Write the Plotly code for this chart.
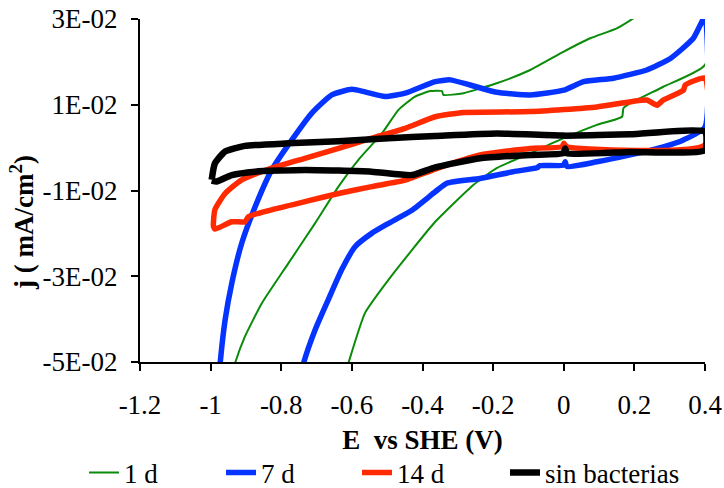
import plotly.graph_objects as go

# ---- data (E vs SHE in V, j in mA/cm2) ----
# 1 d : forward sweep then return sweep
e_1d = [-0.94, -0.931, -0.903, -0.855, -0.780, -0.704, -0.638, -0.582, -0.515, -0.468, -0.421, -0.378,
        -0.345, -0.341, -0.284, -0.190, -0.095, 0.0, 0.075, 0.150, 0.198, 0.30, 0.40,
        0.40, 0.282, 0.188, 0.169, 0.165, 0.094, 0.0, -0.095, -0.190, -0.256, -0.364, -0.430,
        -0.497, -0.563, -0.610, -0.62]
j_1d = [-0.053, -0.0503, -0.0441, -0.0363, -0.0270, -0.0176, -0.0091, -0.0029, 0.0033, 0.0088, 0.0119, 0.0132,
        0.0132, 0.0123, 0.0127, 0.0150, 0.0181, 0.0224, 0.0255, 0.0278, 0.0302, 0.036, 0.041,
        0.0193, 0.0142, 0.0103, 0.0092, 0.0072, 0.0053, 0.0022, -0.0013, -0.0048, -0.0087, -0.0173, -0.0239,
        -0.0309, -0.0386, -0.0503, -0.053]

# 7 d
e_7d = [-0.978, -0.973, -0.959, -0.940, -0.912, -0.874, -0.827, -0.770, -0.714, -0.657, -0.600, -0.563,
        -0.506, -0.449, -0.364, -0.322, -0.265, -0.190, -0.095, 0.0, 0.056, 0.141, 0.235, 0.302, 0.367, 0.40,
        0.40, 0.339, 0.282, 0.188, 0.094, 0.009, 0.004, -0.001, -0.067, -0.076, -0.142, -0.237, -0.331,
        -0.364, -0.430, -0.497, -0.544, -0.591, -0.629, -0.667, -0.704, -0.737, -0.745]
j_7d = [-0.056, -0.0503, -0.0402, -0.0316, -0.0223, -0.0138, -0.0052, 0.0018, 0.0080, 0.0123, 0.0136, 0.0130,
        0.0119, 0.0127, 0.0154, 0.0158, 0.0146, 0.0129, 0.0123, 0.0134, 0.0154, 0.0162, 0.0181, 0.0208, 0.0255, 0.0305,
        0.0048, 0.0018, 0.0002, -0.0017, -0.0033, -0.0044, -0.0033, -0.0041, -0.0042, -0.0047, -0.0056, -0.0072, -0.0083,
        -0.0103, -0.0146, -0.0177, -0.0200, -0.0231, -0.0285, -0.0355, -0.0425, -0.0503, -0.053]

# 14 d
e_14d = [-0.992, -0.988, -0.959, -0.912, -0.827, -0.733, -0.638, -0.544, -0.449, -0.364, -0.284, -0.095,
         0.094, 0.235, 0.264, 0.282, 0.339, 0.344, 0.40,
         0.40, 0.009, 0.0, -0.005, -0.095, -0.237, -0.364, -0.449, -0.544, -0.638, -0.733, -0.827,
         -0.893, -0.903, -0.940, -0.988, -0.992]
j_14d = [-0.0184, -0.0145, -0.0107, -0.0075, -0.0048, -0.0025, -0.0002, 0.0022, 0.0045, 0.0072, 0.0082, 0.0084,
         0.0095, 0.0111, 0.0099, 0.0111, 0.0134, 0.0146, 0.0162,
         0.0006, 0.0002, 0.0010, 0.0002, -0.0002, -0.0017, -0.0050, -0.0076, -0.0091, -0.0107, -0.0126, -0.0145,
         -0.0161, -0.0173, -0.0173, -0.0190, -0.0184]

# sin bacterias
e_sb = [-0.997, -0.988, -0.959, -0.903, -0.780, -0.638, -0.497, -0.364, -0.190, 0.0, 0.188, 0.40,
        0.40, 0.188, 0.009, 0.004, -0.001, -0.095, -0.237, -0.364, -0.430, -0.544, -0.733, -0.874,
        -0.940, -0.983, -0.997]
j_sb = [-0.0075, -0.0037, -0.0009, 0.0004, 0.0010, 0.0015, 0.0022, 0.0027, 0.0033, 0.0028, 0.0031, 0.0037,
        -0.0006, -0.0010, -0.0013, -0.0002, -0.0013, -0.0017, -0.0025, -0.0046, -0.0064, -0.0056, -0.0052, -0.0056,
        -0.0064, -0.0079, -0.0077]

series_names = ["1 d", "7 d", "14 d", "sin bacterias"]

x_ticks = [-1.2, -1.0, -0.8, -0.6, -0.4, -0.2, 0.0, 0.2, 0.4]
x_ticktext = ["-1.2", "-1", "-0.8", "-0.6", "-0.4", "-0.2", "0", "0.2", "0.4"]
y_ticks = [-0.05, -0.03, -0.01, 0.01, 0.03]
y_ticktext = ["-5E-02", "-3E-02", "-1E-02", "1E-02", "3E-02"]

FONT = "Liberation Serif"
FS = 27

fig = go.Figure()
styles = [("#0a8c0a", 2), ("#0533ff", 5.5), ("#ff2a00", 5.5), ("#000000", 6.5)]
legend_ids = ["legend", "legend2", "legend3", "legend4"]
for (xs, ys), name, (col, w), lg in zip([(e_1d, j_1d), (e_7d, j_7d), (e_14d, j_14d), (e_sb, j_sb)],
                                       series_names, styles, legend_ids):
    fig.add_trace(go.Scatter(x=xs, y=ys, mode="lines", name=name, legend=lg,
                             line=dict(color=col, width=w, shape="spline", smoothing=0.5)))

leg_font = dict(family=FONT, size=FS, color="black")
leg_common = dict(orientation="h", xanchor="left", y=-0.252, yanchor="top",
                  font=leg_font, bgcolor="rgba(0,0,0,0)", borderwidth=0)
legend_x = [-0.0991, 0.1434, 0.3841, 0.646]

fig.update_layout(
    width=724, height=488,
    margin=dict(l=140, r=19, t=19, b=126, autoexpand=False),
    paper_bgcolor="white", plot_bgcolor="white",
    font=dict(family=FONT, size=FS, color="black"),
    showlegend=True,
    legend=dict(x=legend_x[0], **leg_common),
    legend2=dict(x=legend_x[1], **leg_common),
    legend3=dict(x=legend_x[2], **leg_common),
    legend4=dict(x=legend_x[3], **leg_common),
)
fig.update_xaxes(range=[-1.2, 0.4], tickvals=x_ticks, ticktext=x_ticktext,
                 showgrid=False, zeroline=False, showline=True, linecolor="black", linewidth=2,
                 ticks="outside", ticklen=7, tickwidth=2, tickcolor="black",
                 ticklabelstandoff=11, automargin=False,
                 title=dict(text="<b>E\u00a0 vs SHE (V)</b>", standoff=11,
                            font=dict(family=FONT, size=FS)))
fig.update_yaxes(range=[-0.05, 0.03], tickvals=y_ticks, ticktext=y_ticktext,
                 showgrid=False, zeroline=False, showline=True, linecolor="black", linewidth=2,
                 ticks="outside", ticklen=7, tickwidth=2, tickcolor="black",
                 ticklabelstandoff=8, automargin=False)
fig.add_annotation(text="<b>j ( mA/cm<sup>2</sup>)</b>", textangle=-90,
                   xref="paper", yref="paper", x=-0.209, y=(362 - 222) / 343,
                   xanchor="center", yanchor="middle", showarrow=False,
                   font=dict(family=FONT, size=FS, color="black"))

fig.write_html("out.html", config={"displayModeBar": False},
               post_script="document.body.style.margin='0';")
